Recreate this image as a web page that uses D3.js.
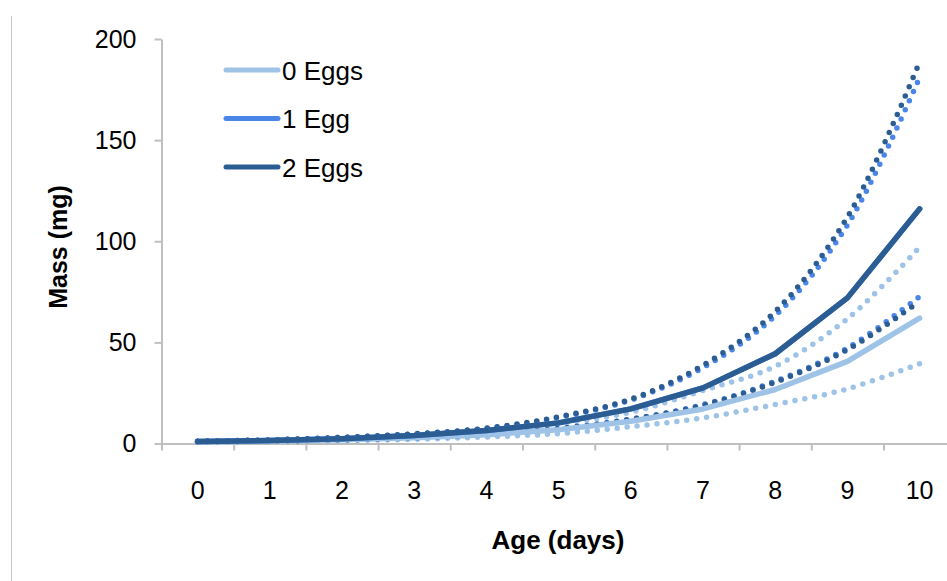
<!DOCTYPE html>
<html>
<head>
<meta charset="utf-8">
<script src="https://cdn.jsdelivr.net/npm/d3@7"></script>
<style>
  html, body { margin: 0; padding: 0; background: #fff; }
  svg { display: block; font-family: "Liberation Sans", Arial, Helvetica, sans-serif; }
</style>
</head>
<body>
<svg id="chart" width="947" height="581"></svg>
<script>
// ---- data ----
const days = [0, 1, 2, 3, 4, 5, 6, 7, 8, 9, 10];
const yTicks = [0, 50, 100, 150, 200];
const seriesNames = ["0 Eggs", "1 Egg", "2 Eggs"];
const seriesColors = ["#9ec3e6", "#4a86e8", "#2c5d92"];

const mean0 = [0.8, 1.2, 1.8, 2.8, 4.3, 6.8, 11.0, 17.1, 26.7, 40.6, 62.0];
const mean1 = [1.0, 1.5, 2.4, 3.9, 6.4, 10.2, 17.1, 27.5, 44.4, 72.0, 116.0];
const mean2 = [1.0, 1.5, 2.4, 3.9, 6.4, 10.2, 17.1, 27.5, 44.4, 72.0, 116.0];

const upper0 = [1.0, 1.5, 2.4, 3.8, 6.0, 9.8, 15.5, 26.2, 38.2, 61.7, 97.0];
const lower0 = [0.6, 0.9, 1.4, 2.1, 3.2, 4.9, 8.3, 12.7, 19.3, 27.0, 39.5];
const upper1 = [1.1, 1.8, 3.0, 4.7, 7.4, 12.8, 21.5, 37.5, 63.2, 108.0, 181.0];
const lower1 = [0.8, 1.2, 1.8, 2.9, 4.6, 7.5, 12.1, 19.2, 30.8, 47.2, 72.7];
const upper2 = [1.1, 1.8, 3.0, 4.8, 7.6, 13.2, 22.0, 38.7, 65.3, 112.0, 188.6];
const lower2 = [0.8, 1.2, 1.8, 2.8, 4.5, 7.4, 11.9, 18.9, 30.3, 46.4, 70.3];

// ---- layout ----
const svg = d3.select("#chart");
const plotLeft = 161.5, step = 72.2, plotTop = 39, plotBottom = 443.5;
const x = d3.scaleBand().domain(days).range([plotLeft, plotLeft + step * days.length]).paddingInner(0).paddingOuter(0);
const xEdge = d3.scaleLinear().domain([0, days.length]).range([plotLeft, plotLeft + step * days.length]);
const y = d3.scaleLinear().domain([0, 200]).range([plotBottom, plotTop]);
const cx = d => x(d) + x.bandwidth() / 2;

// left border line
svg.append("line").attr("x1", 11.5).attr("x2", 11.5).attr("y1", 16).attr("y2", 581)
  .attr("stroke", "#c8c8c8").attr("stroke-width", 1);

const axisColor = "#bfbfbf";

// y axis
const gy = svg.append("g").attr("transform", `translate(${plotLeft},0)`)
  .call(d3.axisLeft(y).tickValues(yTicks).tickSize(7).tickPadding(18).tickSizeOuter(0));
gy.select(".domain").attr("stroke", axisColor).attr("stroke-width", 2);
gy.selectAll(".tick line").attr("stroke", axisColor).attr("stroke-width", 2);
gy.selectAll(".tick text").attr("font-size", 25).attr("fill", "#000")
  .attr("font-family", "Liberation Sans, Arial, sans-serif");

// x axis: tick marks between categories
const gxe = svg.append("g").attr("transform", `translate(0,${plotBottom})`)
  .call(d3.axisBottom(xEdge).tickValues(d3.range(0, days.length + 1)).tickSize(7).tickFormat("").tickSizeOuter(0));
gxe.select(".domain").attr("stroke", axisColor).attr("stroke-width", 2);
gxe.selectAll(".tick line").attr("stroke", axisColor).attr("stroke-width", 2);

// x axis: category labels
const gx = svg.append("g").attr("transform", `translate(0,${plotBottom})`)
  .call(d3.axisBottom(x).tickSize(0).tickPadding(38));
gx.select(".domain").remove();
gx.selectAll(".tick text").attr("font-size", 25).attr("fill", "#000")
  .attr("font-family", "Liberation Sans, Arial, sans-serif");

// axis titles
svg.append("text").attr("x", 558).attr("y", 549).attr("text-anchor", "middle")
  .attr("font-size", 26).attr("font-weight", "bold").text("Age (days)");
svg.append("text").attr("transform", "translate(67,247) rotate(-90)").attr("text-anchor", "middle")
  .attr("font-size", 25).attr("font-weight", "bold").text("Mass (mg)");

// lines
const smooth = d3.line().x((d, i) => cx(days[i])).y(d => y(d)).curve(d3.curveCatmullRom.alpha(0.5));
const straight = d3.line().x((d, i) => cx(days[i])).y(d => y(d));

const dotted = [
  [upper0, 0], [lower0, 0],
  [upper1, 1], [lower1, 1],
  [upper2, 2], [lower2, 2]
];
dotted.forEach(([vals, s]) => {
  svg.append("path").attr("d", smooth(vals)).attr("fill", "none")
    .attr("stroke", seriesColors[s]).attr("stroke-width", 5.5)
    .attr("stroke-linecap", "round").attr("stroke-dasharray", "0 10");
});

[mean0, mean1, mean2].forEach((vals, s) => {
  svg.append("path").attr("d", straight(vals)).attr("fill", "none")
    .attr("stroke", seriesColors[s]).attr("stroke-width", 5.5)
    .attr("stroke-linejoin", "round").attr("stroke-linecap", "round");
});

// legend
const legend = svg.append("g");
seriesNames.forEach((name, i) => {
  const ly = 70 + i * 48.5;
  legend.append("line").attr("x1", 226).attr("x2", 278).attr("y1", ly).attr("y2", ly)
    .attr("stroke", seriesColors[i]).attr("stroke-width", 5).attr("stroke-linecap", "round");
  legend.append("text").attr("x", 282).attr("y", ly + 9.5).attr("font-size", 26).attr("fill", "#000").text(name);
});
</script>
</body>
</html>
